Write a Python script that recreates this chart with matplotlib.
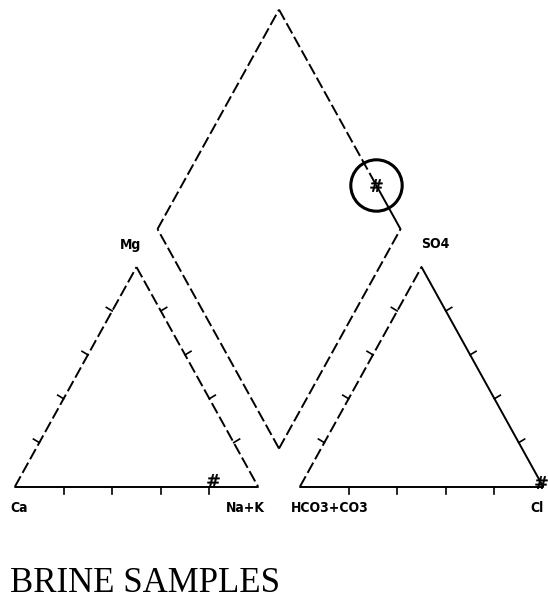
import numpy as np
import matplotlib.pyplot as plt

# sample composition, percent of meq/l
cation_labels = ['Ca', 'Mg', 'Na+K']
cation_pct = [17, 3, 80]
anion_labels = ['HCO3+CO3', 'SO4', 'Cl']
anion_pct = [0, 2, 98]
tick_pct = [20, 40, 60, 80]
title = 'BRINE SAMPLES'

H = np.sqrt(3) / 2
GAP = 0.173
DASH = (0, (6, 2))
LW = 1.4
KW = dict(color='black', lw=LW, solid_capstyle='round')

# vertices
ca_l, ca_r, ca_t = np.array([0, 0]), np.array([1, 0]), np.array([0.5, H])
an_l, an_r = np.array([1 + GAP, 0]), np.array([2 + GAP, 0])
an_t = np.array([1.5 + GAP, H])
d_b = np.array([1 + GAP / 2, GAP * H])
d_l = d_b + np.array([-0.5, H])
d_r = d_b + np.array([0.5, H])
d_t = d_b + np.array([0, 2 * H])

fig = plt.figure(figsize=(5.48, 6.03), dpi=100)
ax = fig.add_axes([0, 0, 1, 1])
ax.set_xlim(-15 / 243, 533 / 243)
ax.set_ylim((486.5 - 603) / 253.4, 486.5 / 253.4)
ax.axis('off')


def seg(p, q, **kw):
    st = dict(KW)
    st.update(kw)
    ax.plot([p[0], q[0]], [p[1], q[1]], **st)


def ticks(p, q, normal, length=0.028):
    n = np.asarray(normal, float)
    n = n / np.linalg.norm(n) * length
    for t in tick_pct:
        a = p + (q - p) * t / 100
        ax.plot([a[0], a[0] + n[0]], [a[1], a[1] + n[1]], color='black', lw=1.2)


# cation triangle
seg(ca_l, ca_r)
seg(ca_l, ca_t, linestyle=DASH)
seg(ca_t, ca_r, linestyle=DASH)
ticks(ca_l, ca_r, (0, -1))
ticks(ca_l, ca_t, (-H, 0.5))
ticks(ca_t, ca_r, (H, 0.5))

# anion triangle
seg(an_l, an_r)
seg(an_l, an_t, linestyle=DASH)
seg(an_t, an_r)
ticks(an_l, an_r, (0, -1))
ticks(an_l, an_t, (-H, 0.5))
ticks(an_t, an_r, (H, 0.5))

# sample position in each field
ca, mg, nak = [v / 100 for v in cation_pct]
hco3, so4, cl = [v / 100 for v in anion_pct]
p_cat = ca_l + nak * (ca_r - ca_l) + mg * (ca_t - ca_l)
p_an = an_l + cl * (an_r - an_l) + so4 * (an_t - an_l)
p_dia = d_l + nak * (d_b - d_l) + (so4 + cl) * (d_t - d_l)

# diamond
seg(d_b, d_l, linestyle=DASH)
seg(d_l, d_t, linestyle=DASH)
seg(d_b, d_r, linestyle=DASH)
seg(d_t, p_dia, linestyle=DASH)
seg(p_dia, d_r)

for p in (p_cat, p_an, p_dia):
    ax.plot(p[0], p[1], marker=r'$\#$', ms=9, color='black', mew=0.4)
ax.plot(p_dia[0], p_dia[1], marker='o', ms=37, mfc='none', mec='black', mew=2.2)

lab = dict(fontfamily=['DejaVu Sans'], fontweight='bold', fontstretch='condensed',
           fontsize=10, ha='center', va='center', textcoords='offset pixels')
for txt, xy, off in [(cation_labels[0], ca_l, (4, -22)),
                     (cation_labels[1], ca_t, (-6, 22)),
                     (cation_labels[2], ca_r, (-13, -22)),
                     (anion_labels[0], an_l, (30, -22)),
                     (anion_labels[1], an_t, (14, 23)),
                     (anion_labels[2], an_r, (-6, -22))]:
    t = ax.annotate(txt, xy=xy, xytext=off, **lab)
    t.set_transform_rotates_text(False)

fig.text(10 / 548, 1 - 583 / 603, title, fontfamily=['Liberation Serif', 'DejaVu Serif'],
         fontsize=25, ha='left', va='center')

fig.savefig('out.png', dpi=100)
